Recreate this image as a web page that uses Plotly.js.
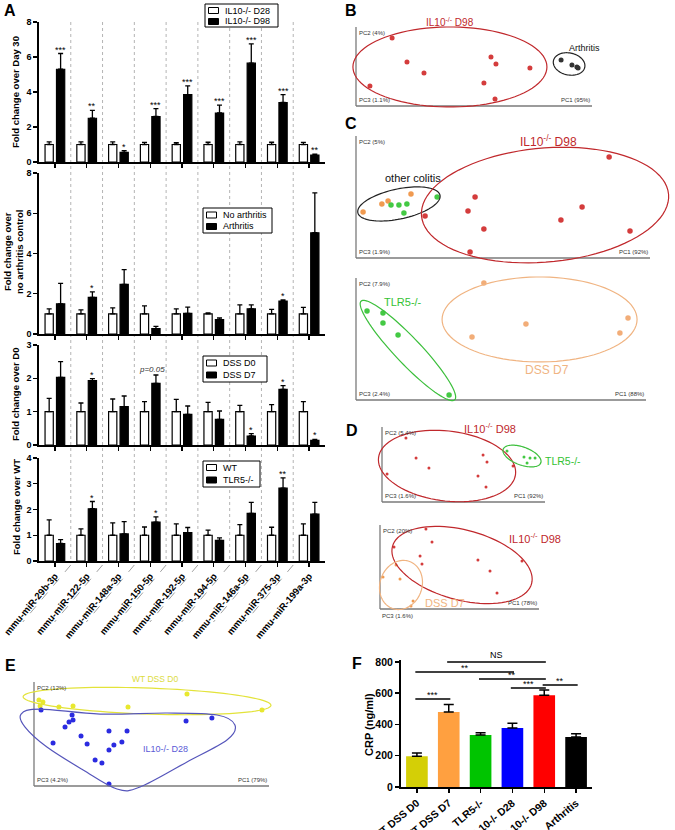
<!DOCTYPE html>
<html><head><meta charset="utf-8">
<script src="https://cdn.plot.ly/plotly-3.0.1.min.js"></script>
<style>html,body{margin:0;padding:0;background:#fff}#chart{width:675px;height:830px}</style>
</head><body><div id="chart"></div>
<script>
// ================= DATA =================
const mirnas = ['mmu-miR-29b-3p','mmu-miR-122-5p','mmu-miR-148a-3p','mmu-miR-150-5p','mmu-miR-192-5p','mmu-miR-194-5p','mmu-miR-146a-5p','mmu-miR-375-3p','mmu-miR-199a-3p'];

// A1: IL10-/- D28 vs D98 (fold change over Day 30)
const il10D28 = [1,1,1,1,1,1,1,1,1];
const il10D28Err = [0.15,0.15,0.15,0.12,0.1,0.13,0.15,0.13,0.12];
const il10D98 = [5.3,2.5,0.55,2.6,3.85,2.8,5.65,3.4,0.4];
const il10D98Err = [0.9,0.45,0.1,0.45,0.5,0.45,1.1,0.45,0.05];
const sigA1 = ['***','**','*','***','***','***','***','***','**'];

// A2: No arthritis vs Arthritis
const noArth = [1,1,1,1,1,1,1,1,1];
const noArthErr = [0.25,0.2,0.3,0.4,0.25,0.05,0.45,0.22,0.32];
const arth = [1.5,1.82,2.47,0.27,1.02,0.72,1.25,1.64,5.03];
const arthErr = [1.02,0.27,0.73,0.11,0.32,0.08,0.2,0.06,1.98];
const sigA2 = ['','*','','','','','','*',''];

// A3: DSS D0 vs DSS D7
const dssD0 = [1,1,1,1,1,1,1,1,1];
const dssD0Err = [0.4,0.26,0.38,0.3,0.37,0.28,0.19,0.21,0.3];
const dssD7 = [2.03,1.93,1.15,1.85,0.92,0.77,0.27,1.67,0.14];
const dssD7Err = [0.47,0.06,0.32,0.25,0.25,0.25,0.07,0.11,0.03];
const sigA3 = ['','*','','p=0.05','','','*','*','*'];

// A4: WT vs TLR5-/-
const wt = [1,1,1,1,1,1,1,1,1];
const wtErr = [0.6,0.25,0.48,0.32,0.44,0.2,0.41,0.31,0.44];
const tlr5 = [0.68,2.03,1.05,1.51,1.1,0.8,1.85,2.83,1.82];
const tlr5Err = [0.15,0.28,0.48,0.2,0.2,0.1,0.43,0.4,0.46];
const sigA4 = ['','*','','*','','','','**',''];

// F: CRP
const crpGroups = ['WT DSS D0','WT DSS D7','TLR5-/-','IL10-/- D28','IL10-/- D98','Arthritis'];
const crp = [197,480,333,378,587,320];
const crpErr = [21,48,15,30,34,21];
// comparisons: [from, to, label, level]
const crpComparisons = [[1,4,'NS',800],[0,3,'**',736],[2,4,'**',691],[3,4,'***',634],[4,5,'**',653],[0,1,'***',563]];

// PCA scores (normalised 0-100 within each plot frame)
const bIl10D98Pc1 = [15.3,21.6,28.8,5.9,57.2,59.3,73.7,54.2,58.9];
const bIl10D98Pc2 = [86.1,55.7,41.8,25.3,62.0,53.2,48.1,29.1,8.9];
const bArthPc1 = [86.9,91.5,93.6,94.1];
const bArthPc2 = [58.2,51.9,49.4,48.1];

const cDssPc1 = [2.4,8.8,10.9,18.7];
const cDssPc2 = [37.7,44.3,46.7,52.5];
const cTlr5Pc1 = [11.9,14.6,17.3,16.3,27.6];
const cTlr5Pc2 = [43.4,43.4,44.3,36.9,50.0];
const cIl10Pc1 = [23.5,40.5,38.1,43.5,38.8,69.7,76.9,86.1,93.2];
const cIl10Pc2 = [34.4,50.0,38.5,23.8,4.9,31.1,41.8,82.8,22.1];

const c2Tlr5Pc1 = [3.8,9.3,9.3,14.5,32.1];
const c2Tlr5Pc2 = [73.0,71.3,63.1,53.3,4.1];
const c2DssPc1 = [44.1,58.6,40.0,93.8,91.0];
const c2DssPc2 = [95.9,62.3,51.6,67.2,54.9];

const dIl10Pc1 = [14.7,20.9,28.8,3.1,62.0,64.4,58.9,63.8,80.4];
const dIl10Pc2 = [85.3,58.7,45.3,37.3,62.7,53.3,34.7,20.0,48.0];
const dTlr5Pc1 = [76.7,87.1,90.8,93.9,89.0];
const dTlr5Pc2 = [68.0,60.0,58.7,58.7,52.0];

const d2Il10Pc1 = [28.9,32.7,8.8,25.2,26.4,61.6,69.2,89.3,73.6];
const d2Il10Pc2 = [95.2,79.8,73.8,63.1,53.6,58.3,45.2,57.1,19.0];
const d2DssPc1 = [10.1,1.9,12.6,20.8,19.5];
const d2DssPc2 = [52.4,38.1,35.7,9.5,3.6];

const eWtPc1 = [2.1,3.8,2.6,10.6,16.6,40.0,65.1,97.0];
const eWtPc2 = [82.7,80.8,76.9,76.0,76.9,76.0,88.5,73.1];
const eIl10Pc1 = [3.0,16.2,16.6,14.9,13.2,20.0,8.1,22.6,31.9,39.6,37.4,34.0,31.9,26.0,28.9,31.9,64.7,75.7];
const eIl10Pc2 = [73.1,68.3,63.5,61.5,56.7,48.1,41.3,40.4,52.9,52.9,42.3,39.4,34.6,25.0,22.1,1.9,62.5,65.4];

// ================= LAYOUT HELPERS =================
const W = 675, H = 830;
const px = x => x / W;
const py = y => 1 - y / H;
const FONT = 'Arial, "Liberation Sans", sans-serif';
const traces = [], shapes = [], annotations = [];
const layout = {
  width: W, height: H, margin: {l:0, r:0, t:0, b:0},
  paper_bgcolor: '#fff', plot_bgcolor: 'rgba(0,0,0,0)',
  showlegend: false, barmode: 'group', bargap: 0.28, bargroupgap: 0.28,
  font: {family: FONT, color: '#000', size: 10},
  shapes: shapes, annotations: annotations
};

function text(x, y, t, opts) {
  annotations.push(Object.assign({xref:'paper', yref:'paper', x: px(x), y: py(y), text: t, showarrow:false,
    xanchor:'center', yanchor:'middle', font:{family:FONT, size:10, color:'#000'}}, opts || {}));
}

// ---- Panel A ----
const aX0 = 39, aX1 = 325;
const catW = (aX1 - aX0) / mirnas.length;
const aDomains = [[22,162],[173,334],[345,445],[458,561]];
const aRanges = [[0,8],[0,8],[0,3],[0,4]];
const aTicks = [[0,2,4,6,8],[0,2,4,6,8],[0,1,2,3],[0,1,2,3,4]];

function barPanel(n, white, whiteErr, black, blackErr, names, sig) {
  const xa = n === 1 ? 'x' : 'x' + n, ya = n === 1 ? 'y' : 'y' + n;
  const xk = n === 1 ? 'xaxis' : 'xaxis' + n, yk = n === 1 ? 'yaxis' : 'yaxis' + n;
  const d = aDomains[n-1];
  layout[xk] = {domain:[px(aX0), px(aX1)], anchor: ya, type:'category', range:[-0.5, mirnas.length - 0.5],
    showline:true, linecolor:'#000', linewidth:1.8, ticks:'outside', ticklen:4, tickwidth:1.3, tickcolor:'#000',
    showgrid:false, zeroline:false, showticklabels: n === 4, tickangle:-50,
    tickfont:{family:FONT, size:9.5, weight:'bold', color:'#000'}};
  layout[yk] = {domain:[py(d[1]), py(d[0])], anchor: xa, range: aRanges[n-1], tickvals: aTicks[n-1],
    showline:true, linecolor:'#000', linewidth:1.8, ticks:'outside', ticklen:4, tickwidth:1.3, tickcolor:'#000',
    showgrid:false, zeroline:false, tickfont:{family:FONT, size:9, weight:'bold', color:'#000'}};
  const errStyle = {type:'data', symmetric:false, color:'#000', thickness:1.3, width:2.5};
  traces.push({type:'bar', x: mirnas, y: white, xaxis: xa, yaxis: ya, name: names[0],
    marker:{color:'#fff', line:{color:'#000', width:1.2}},
    error_y: Object.assign({array: whiteErr, arrayminus: white.map(() => 0)}, errStyle)});
  traces.push({type:'bar', x: mirnas, y: black, xaxis: xa, yaxis: ya, name: names[1],
    marker:{color:'#000', line:{color:'#000', width:1.2}},
    error_y: Object.assign({array: blackErr, arrayminus: black.map(() => 0)}, errStyle)});
  sig.forEach((s, i) => {
    if (!s) return;
    const isP = s.indexOf('p=') === 0;
    annotations.push({xref: xa, yref: ya, x: i + (isP ? 0.05 : 0.18), y: black[i] + blackErr[i],
      text: isP ? '<i>' + s + '</i>' : s, showarrow:false, yanchor:'bottom', xanchor:'center', yshift: isP ? -1 : -3,
      font:{family:FONT, size: isP ? 8 : 9, color: isP ? '#333' : '#000'}});
  });
}
barPanel(1, il10D28, il10D28Err, il10D98, il10D98Err, ['IL10-/- D28','IL10-/- D98'], sigA1);
barPanel(2, noArth, noArthErr, arth, arthErr, ['No arthritis','Arthritis'], sigA2);
barPanel(3, dssD0, dssD0Err, dssD7, dssD7Err, ['DSS D0','DSS D7'], sigA3);
barPanel(4, wt, wtErr, tlr5, tlr5Err, ['WT','TLR5-/-'], sigA4);

// separators
for (let k = 1; k < mirnas.length; k++) {
  const sx = aX0 + k * catW;
  shapes.push({type:'line', xref:'paper', yref:'paper', x0:px(sx), x1:px(sx), y0:py(22), y1:py(561),
    line:{color:'#b4b4b4', width:1, dash:'dot'}, layer:'below'});
  shapes.push({type:'line', xref:'paper', yref:'paper', x0:px(sx), x1:px(sx - 48), y0:py(565), y1:py(622),
    line:{color:'#888', width:0.8, dash:'dash'}});
}

// legends for A
function legendBox(x0, y0, x1, y1, labels, rows) {
  shapes.push({type:'rect', xref:'paper', yref:'paper', x0:px(x0), x1:px(x1), y0:py(y0), y1:py(y1),
    line:{color:'#000', width:1}, fillcolor:'#fff'});
  labels.forEach((lab, i) => {
    const cy = rows[i];
    shapes.push({type:'rect', xref:'paper', yref:'paper', x0:px(x0 + 3.5), x1:px(x0 + 13.5), y0:py(cy - 3), y1:py(cy + 3),
      line:{color:'#000', width:1}, fillcolor: i === 0 ? '#fff' : '#000'});
    text(x0 + 18, cy, lab, {xanchor:'left', font:{family:FONT, size:9, color:'#000'}});
  });
}
legendBox(205, 4, 278, 27, ['IL10-/- D28','IL10-/- D98'], [10.5, 21.5]);
legendBox(203, 208, 272, 233, ['No arthritis','Arthritis'], [215, 226.5]);
legendBox(203, 356, 267, 382, ['DSS D0','DSS D7'], [363, 375]);
legendBox(203, 461, 260, 487, ['WT','TLR5-/-'], [467.5, 480]);

// A axis titles
const yTitleFont = {family:FONT, size:9.5, color:'#000'};
text(16, 92, '<b>Fold change over Day 30</b>', {textangle:-90, font:yTitleFont});
text(13, 252, '<b>Fold change over<br>no arthritis control</b>', {textangle:-90, font:yTitleFont});
text(16, 395, '<b>Fold change over D0</b>', {textangle:-90, font:yTitleFont});
text(16, 507, '<b>Fold change over WT</b>', {textangle:-90, font:yTitleFont});

// ---- Panel F ----
const fBottom = 787, fPxPerUnit = 125 / 800, fTop = 815;
layout.xaxis5 = {domain:[px(401), px(592)], anchor:'y5', type:'category', range:[-0.5, 5.5],
  showline:true, linecolor:'#000', linewidth:2, ticks:'outside', ticklen:4, tickwidth:1.5, tickcolor:'#000',
  showgrid:false, zeroline:false, tickangle:-40, tickfont:{family:FONT, size:10.5, weight:'bold', color:'#000'}};
layout.yaxis5 = {domain:[py(fBottom), py(fBottom - fTop * fPxPerUnit)], anchor:'x5', range:[0, fTop],
  tickvals:[0,200,400,600,800], showline:true, linecolor:'#000', linewidth:2, ticks:'outside', ticklen:4,
  tickwidth:1.5, tickcolor:'#000', showgrid:false, zeroline:false,
  tickfont:{family:FONT, size:10.5, weight:'bold', color:'#000'}};
traces.push({type:'bar', x: crpGroups, y: crp, xaxis:'x5', yaxis:'y5', width:0.68, name:'CRP',
  marker:{color:['#d4cf06','#ffa040','#00c400','#0000ff','#ff0000','#000000'], line:{width:0}},
  error_y:{type:'data', symmetric:false, array: crpErr, arrayminus: crp.map(() => 0), color:'#000', thickness:1.5, width:5}});
crpComparisons.forEach(c => {
  shapes.push({type:'line', xref:'x5', yref:'y5', x0:c[0] - 0.05, x1:c[1] + 0.05, y0:c[3], y1:c[3], line:{color:'#000', width:1.5}});
  annotations.push({xref:'x5', yref:'y5', x:(c[0] + c[1]) / 2, y:c[3], text:c[2], showarrow:false, yanchor:'bottom',
    yshift: c[2] === 'NS' ? 0 : -3, font:{family:FONT, size:9, color:'#000'}});
});
text(369, 725, '<b>CRP (ng/ml)</b>', {textangle:-90, font:{family:FONT, size:11, color:'#000'}});

// ---- PCA panels ----
function pcaPanel(id, box, xr, yr) {
  const bw = box.x1 - box.x0, bh = box.y0 - box.y1;
  layout['xaxis' + id] = {domain:[px(box.x0 + xr[0] / 100 * bw), px(box.x0 + xr[1] / 100 * bw)], anchor:'y' + id,
    range: xr, visible:false, fixedrange:true};
  layout['yaxis' + id] = {domain:[py(box.y0 - yr[0] / 100 * bh), py(box.y0 - yr[1] / 100 * bh)], anchor:'x' + id,
    range: yr, visible:false, fixedrange:true};
  const p = {xa:'x' + id, ya:'y' + id, sx: bw / 100, sy: bh / 100, box: box};
  shapes.push({type:'line', xref:p.xa, yref:p.ya, x0:0, x1:0, y0:0, y1:100, line:{color:'#7a7a7a', width:1.3}});
  shapes.push({type:'line', xref:p.xa, yref:p.ya, x0:0, x1:100, y0:0, y1:0, line:{color:'#7a7a7a', width:1.3}});
  return p;
}
function addPoints(p, xs, ys, color, size, name) {
  traces.push({type:'scatter', mode:'markers', x: xs, y: ys, xaxis:p.xa, yaxis:p.ya, name: name,
    marker:{color: color, size: size, line:{width:0}}, cliponaxis:false});
}
function addEllipse(p, cx, cy, a, b, ang, color) {
  const r = ang * Math.PI / 180;
  let d = '';
  for (let i = 0; i <= 90; i++) {
    const t = i / 90 * 2 * Math.PI;
    const u = a * Math.cos(t), v = b * Math.sin(t);
    const X = u * Math.cos(r) - v * Math.sin(r), Y = u * Math.sin(r) + v * Math.cos(r);
    d += (i ? 'L' : 'M') + (cx + X / p.sx).toFixed(3) + ',' + (cy + Y / p.sy).toFixed(3);
  }
  shapes.push({type:'path', xref:p.xa, yref:p.ya, path: d + 'Z', line:{color: color, width:1.2}});
}
function addBlob(p, pts, color) {
  const n = pts.length;
  let d = 'M' + pts[0][0] + ',' + pts[0][1];
  for (let i = 0; i < n; i++) {
    const p0 = pts[(i - 1 + n) % n], p1 = pts[i], p2 = pts[(i + 1) % n], p3 = pts[(i + 2) % n];
    const c1 = [p1[0] + (p2[0] - p0[0]) / 6, p1[1] + (p2[1] - p0[1]) / 6];
    const c2 = [p2[0] - (p3[0] - p1[0]) / 6, p2[1] - (p3[1] - p1[1]) / 6];
    d += 'C' + c1[0].toFixed(3) + ',' + c1[1].toFixed(3) + ' ' + c2[0].toFixed(3) + ',' + c2[1].toFixed(3) + ' ' + p2[0] + ',' + p2[1];
  }
  shapes.push({type:'path', xref:p.xa, yref:p.ya, path: d + 'Z', line:{color: color, width:1.2}});
}
function pcaLabels(p, l2, l3, l1, pc3Below) {
  const b = p.box, f = {family:FONT, size:6, color:'#333'};
  text(b.x0 + 1, b.y1 + 1, l2, {xanchor:'left', yanchor:'top', font:f});
  if (pc3Below) text(b.x0, b.y0 + 2, l3, {xanchor:'left', yanchor:'top', font:f});
  else text(b.x0 + 1, b.y0 - 1, l3, {xanchor:'left', yanchor:'bottom', font:f});
  text(b.x1, b.y0 - 1, l1, {xanchor:'right', yanchor:'bottom', font:f});
}
const RED = '#d43c3c', RED_E = '#c0282c', GREEN = '#44c944', GREEN_E = '#3cbf3c';
const ORANGE = '#f09a50', ORANGE_L = '#f2ad78', ORANGE_E = '#f0b482';

// B
const pB = pcaPanel(6, {x0:356, x1:592, y0:106, y1:27}, [-6, 108], [-8, 108]);
addEllipse(pB, 39.8, 49.4, 97, 40, 0, RED_E);
addEllipse(pB, 90.3, 53.2, 16, 11, -12, '#222');
addPoints(pB, bIl10D98Pc1, bIl10D98Pc2, RED, 5, 'IL10-/- D98');
addPoints(pB, bArthPc1, bArthPc2, '#333', 5, 'Arthritis');
pcaLabels(pB, 'PC2 (4%)', 'PC3 (1.1%)', 'PC1 (95%)');
text(450, 22, 'IL10<sup>-/-</sup> D98', {font:{family:FONT, size:10, color:RED_E}});
text(584, 48, 'Arthritis', {font:{family:FONT, size:9, color:'#111'}});

// C top
const pC = pcaPanel(7, {x0:356, x1:650, y0:258, y1:136}, [-5, 108], [-8, 110]);
addEllipse(pC, 14.6, 44.3, 42, 15, 12, '#222');
addEllipse(pC, 64.3, 43.4, 124, 57, 5, RED_E);
addPoints(pC, cDssPc1, cDssPc2, ORANGE, 5.5, 'DSS D7');
addPoints(pC, cTlr5Pc1, cTlr5Pc2, GREEN, 5.5, 'TLR5-/-');
addPoints(pC, cIl10Pc1, cIl10Pc2, RED, 5.5, 'IL10-/- D98');
pcaLabels(pC, 'PC2 (5%)', 'PC3 (1.9%)', 'PC1 (92%)');
text(413, 178, 'other colitis', {font:{family:FONT, size:11, color:'#111'}});
text(548, 141, 'IL10<sup>-/-</sup> D98', {font:{family:FONT, size:12, color:RED_E}});

// C bottom
const pC2 = pcaPanel(8, {x0:356, x1:646, y0:400, y1:278}, [-5, 105], [-8, 106]);
addEllipse(pC2, 17.9, 40.6, 68, 13, -46.5, GREEN_E);
addEllipse(pC2, 63.3, 66.0, 97.5, 42.5, 0, ORANGE_E);
addPoints(pC2, c2Tlr5Pc1, c2Tlr5Pc2, GREEN, 5.5, 'TLR5-/-');
addPoints(pC2, c2DssPc1, c2DssPc2, ORANGE_L, 5.5, 'DSS D7');
pcaLabels(pC2, 'PC2 (7.9%)', 'PC3 (2.4%)', 'PC1 (88%)');
text(403, 302, 'TLR5-/-', {font:{family:FONT, size:11, color:'#33c233'}});
text(547, 370, 'DSS D7', {font:{family:FONT, size:12, color:ORANGE_E}});

// D top
const pD = pcaPanel(9, {x0:382, x1:545, y0:502, y1:427}, [-6, 108], [-8, 112]);
addEllipse(pD, 39.9, 48.0, 69, 35, -7, RED_E);
addEllipse(pD, 85.9, 61.3, 20, 9, -20, GREEN_E);
addPoints(pD, dIl10Pc1, dIl10Pc2, RED, 3, 'IL10-/- D98');
addPoints(pD, dTlr5Pc1, dTlr5Pc2, GREEN, 3, 'TLR5-/-');
pcaLabels(pD, 'PC2 (5.4%)', 'PC3 (1.6%)', 'PC1 (92%)');
text(490, 428, 'IL10<sup>-/-</sup> D98', {font:{family:FONT, size:11, color:RED_E}});
text(543, 461, 'TLR5-/-', {xanchor:'left', font:{family:FONT, size:10.5, color:'#33c233'}});

// D bottom
const pD2 = pcaPanel(10, {x0:380, x1:539, y0:609, y1:525}, [-6, 108], [-10, 110]);
addEllipse(pD2, 51.6, 52.4, 72, 35, -15, RED_E);
addEllipse(pD2, 13.2, 28.6, 25, 21, 70, ORANGE_E);
addPoints(pD2, d2Il10Pc1, d2Il10Pc2, RED, 3, 'IL10-/- D98');
addPoints(pD2, d2DssPc1, d2DssPc2, ORANGE, 3, 'DSS D7');
pcaLabels(pD2, 'PC2 (20%)', 'PC3 (1.6%)', 'PC1 (78%)', true);
text(535, 538, 'IL10<sup>-/-</sup> D98', {font:{family:FONT, size:11, color:RED_E}});
text(423, 603, 'DSS D7', {xanchor:'left', font:{family:FONT, size:11, color:ORANGE_E}});

// E
const pE = pcaPanel(11, {x0:34, x1:269, y0:786, y1:682}, [-10, 110], [-6, 112]);
addEllipse(pE, 48.1, 81.7, 124, 13, -2, '#e3e33a');
addBlob(pE, [[-5.5,69.2],[2.6,74.0],[28.1,69.2],[56.6,70.2],[77.9,68.3],[85.5,58.7],[82.1,44.2],[65.1,23.1],[45.1,-1.0],[35.3,-2.9],[20.9,15.4],[5.5,37.5],[-3.8,56.7]], '#5656bb');
addPoints(pE, eWtPc1, eWtPc2, '#e8e82e', 5, 'WT DSS D0');
addPoints(pE, eIl10Pc1, eIl10Pc2, '#2b2be0', 5, 'IL10-/- D28');
pcaLabels(pE, 'PC2 (12%)', 'PC3 (4.2%)', 'PC1 (79%)');
text(155, 679, 'WT DSS D0', {font:{family:FONT, size:8.5, color:'#dcdc3c'}});
text(165, 749, 'IL10-/- D28', {font:{family:FONT, size:9, color:'#5a5ad6'}});

// panel letters
const letterFont = {family:FONT, size:16, color:'#000'};
[['A',10,10],['B',351,10],['C',351,124],['D',352,430],['E',10,665],['F',357,663]].forEach(l =>
  text(l[1], l[2], '<b>' + l[0] + '</b>', {font:letterFont}));

Plotly.newPlot('chart', traces, layout, {staticPlot:true, displayModeBar:false});
</script>
</body></html>
